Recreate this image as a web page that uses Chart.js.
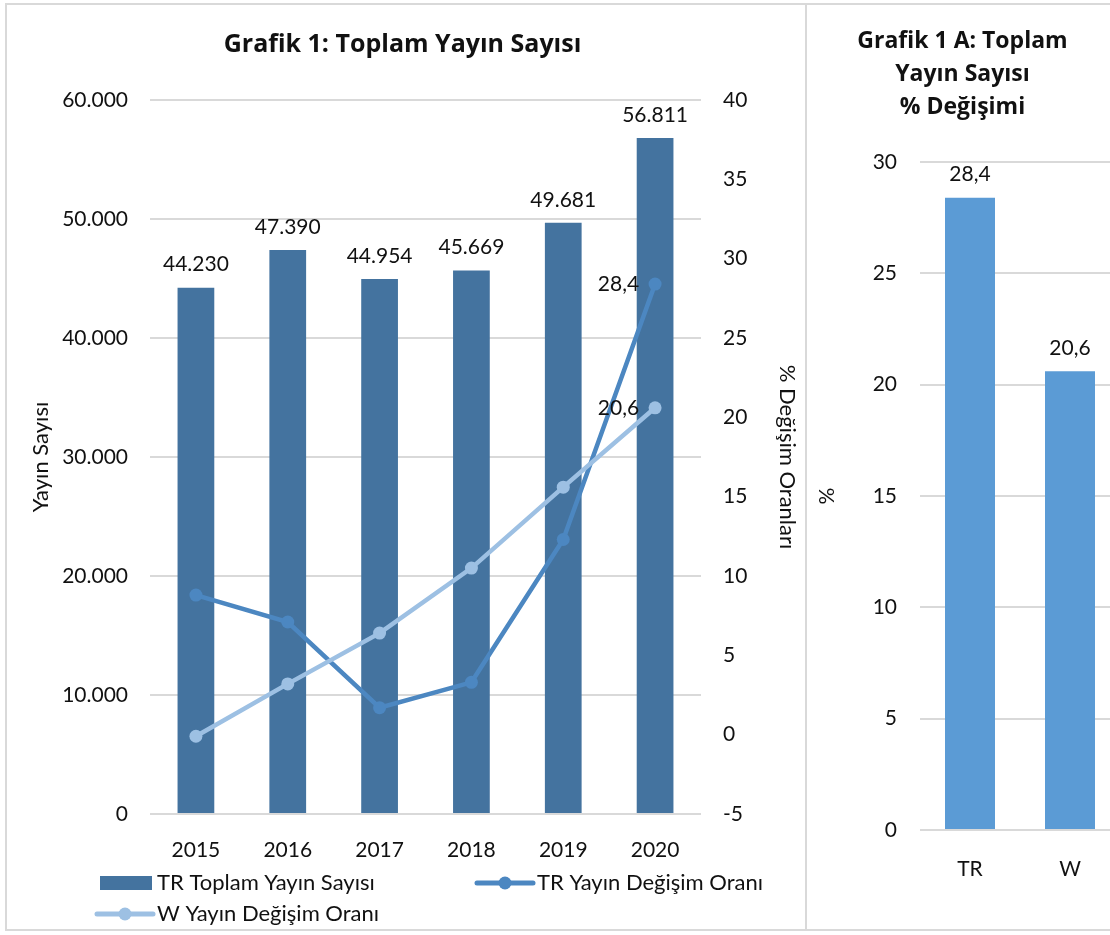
<!DOCTYPE html>
<html>
<head>
<meta charset="utf-8">
<title>Grafik 1: Toplam Yayın Sayısı</title>
<script src="https://cdn.jsdelivr.net/npm/chart.js@4.4.1/dist/chart.umd.min.js"></script>
<style>
  html, body { margin:0; padding:0; background:#fff; width:1110px; height:935px; overflow:hidden; }
  #sol { position:absolute; left:0; top:0; width:805px; height:930px; }
  #sag { position:absolute; left:805px; top:0; width:320px; height:930px; }
  .cerceve { position:absolute; box-sizing:border-box; border:2px solid #d9d9d9; pointer-events:none; }
</style>
</head>
<body>
<div id="sol"><canvas id="ch-toplam"></canvas></div>
<div id="sag"><canvas id="ch-yuzde"></canvas></div>
<div class="cerceve" style="left:5px;top:3px;width:802px;height:928px"></div>
<div class="cerceve" style="left:805px;top:3px;width:320px;height:928px"></div>

<script>
/* ---------- veriler ---------- */
const yillar      = ['2015', '2016', '2017', '2018', '2019', '2020'];
const trToplam    = [44230, 47390, 44954, 45669, 49681, 56811];
const trDegisim   = [8.8, 7.1, 1.7, 3.3, 12.3, 28.4];
const wDegisim    = [-0.1, 3.2, 6.4, 10.5, 15.6, 20.6];
const ulkeler     = ['TR', 'W'];
const degisim2020 = [28.4, 20.6];

/* ---------- stil ---------- */
const FONT = 'Lato, "Open Sans", sans-serif';
const BASLIK_FONT = '"Open Sans", Lato, sans-serif';
const YAZI = '#111';
const IZGARA = '#d9d9d9';
const RENK = { bar:'#44739f', tr:'#4c87c1', w:'#9dc0e3', yuzde:'#5b9bd5' };

// 44230 -> 44.230 , 28.4 -> 28,4
function fmtBin(v){ return String(v).replace(/\B(?=(\d{3})+(?!\d))/g, '.'); }
function fmtOran(v){ return String(v).replace('.', ','); }

// deger etiketleri (bar ustu, cizgide sadece son nokta)
const degerEtiketleri = {
  id: 'degerEtiketleri',
  afterDatasetsDraw(chart){
    const ctx = chart.ctx;
    ctx.save();
    ctx.font = '21px ' + FONT;
    ctx.fillStyle = YAZI;
    ctx.textBaseline = 'middle';
    chart.data.datasets.forEach((ds, i) => {
      const meta = chart.getDatasetMeta(i);
      meta.data.forEach((el, j) => {
        if (meta.type === 'line') {
          if (j !== ds.data.length - 1) return;
          ctx.textAlign = 'right';
          ctx.fillText(fmtOran(ds.data[j]), el.x - 16, el.y);
        } else {
          ctx.textAlign = 'center';
          ctx.fillText(ds.etiket(ds.data[j]), el.x, el.y - 23);
        }
      });
    });
    ctx.restore();
  }
};

// Excel tarzi lejant: iki sutun
const lejant = {
  id: 'lejant',
  afterDraw(chart){
    const ctx = chart.ctx;
    const yer = [ {x:100, y:883}, {x:477, y:883}, {x:97, y:914} ];
    ctx.save();
    ctx.font = '22px ' + FONT;
    ctx.textBaseline = 'middle';
    ctx.textAlign = 'left';
    chart.data.datasets.forEach((ds, i) => {
      const p = yer[i];
      if (ds.type === 'bar') {
        ctx.fillStyle = ds.backgroundColor;
        ctx.fillRect(p.x, p.y - 7, 52, 14);
        ctx.fillStyle = YAZI;
        ctx.fillText(ds.label, p.x + 57, p.y);
      } else {
        ctx.strokeStyle = ds.borderColor;
        ctx.lineWidth = 5;
        ctx.lineCap = 'round';
        ctx.beginPath(); ctx.moveTo(p.x, p.y); ctx.lineTo(p.x + 56, p.y); ctx.stroke();
        ctx.fillStyle = ds.borderColor;
        ctx.beginPath(); ctx.arc(p.x + 28, p.y, 6.5, 0, Math.PI * 2); ctx.fill();
        ctx.fillStyle = YAZI;
        ctx.fillText(ds.label, p.x + 60, p.y);
      }
    });
    ctx.restore();
  }
};

/* ---------- Grafik 1 ---------- */
new Chart(document.getElementById('ch-toplam'), {
  data: {
    labels: yillar,
    datasets: [
      { type:'bar', label:'TR Toplam Yayın Sayısı', data:trToplam, yAxisID:'y',
        backgroundColor:RENK.bar, borderWidth:0, order:3,
        categoryPercentage:0.4, barPercentage:1, etiket:fmtBin },
      { type:'line', label:'TR Yayın Değişim Oranı', data:trDegisim, yAxisID:'y1',
        borderColor:RENK.tr, backgroundColor:RENK.tr, borderWidth:4.5,
        pointRadius:6.5, pointBorderWidth:0, pointBackgroundColor:RENK.tr, tension:0, order:2 },
      { type:'line', label:'W Yayın Değişim Oranı', data:wDegisim, yAxisID:'y1',
        borderColor:RENK.w, backgroundColor:RENK.w, borderWidth:4.5,
        pointRadius:6.5, pointBorderWidth:0, pointBackgroundColor:RENK.w, tension:0, order:1 }
    ]
  },
  options: {
    responsive:true, maintainAspectRatio:false, animation:false,
    layout:{ padding:0 },
    plugins:{
      legend:{ display:false },
      tooltip:{ enabled:false },
      title:{ display:true, text:'Grafik 1: Toplam Yayın Sayısı', color:YAZI,
        font:{ family:BASLIK_FONT, size:25, weight:'bold' }, padding:{ top:30, bottom:40 } }
    },
    scales:{
      x:{
        grid:{ display:false }, border:{ display:false },
        ticks:{ color:YAZI, font:{ family:FONT, size:21 }, padding:16 },
        afterFit(s){ s.height = 116; }
      },
      y:{
        position:'left', min:0, max:60000,
        ticks:{ stepSize:10000, callback:fmtBin, color:YAZI, font:{ family:FONT, size:21 }, padding:22 },
        grid:{ color:IZGARA, lineWidth:2, drawTicks:false }, border:{ display:false },
        title:{ display:true, text:'Yayın Sayısı', color:YAZI, font:{ family:FONT, size:22 }, padding:{ top:28, bottom:0 } },
        afterFit(s){ s.width = 150; }
      },
      y1:{
        position:'right', min:-5, max:40,
        ticks:{ stepSize:5, color:YAZI, font:{ family:FONT, size:21 }, padding:22 },
        grid:{ display:false, drawTicks:false }, border:{ display:false },
        title:{ display:true, text:'% Değişim Oranları', color:YAZI, font:{ family:FONT, size:22 }, padding:{ top:5, bottom:0 } },
        afterFit(s){ s.width = 104; }
      }
    }
  },
  plugins:[degerEtiketleri, lejant]
});

/* ---------- Grafik 1 A ---------- */
new Chart(document.getElementById('ch-yuzde'), {
  type:'bar',
  data: {
    labels: ulkeler,
    datasets: [
      { label:'% Değişim', data:degisim2020, backgroundColor:RENK.yuzde, borderWidth:0,
        categoryPercentage:1, barPercentage:0.5, etiket:fmtOran }
    ]
  },
  options: {
    responsive:true, maintainAspectRatio:false, animation:false,
    layout:{ padding:{ left:0, right:5, top:0, bottom:0 } },
    plugins:{
      legend:{ display:false },
      tooltip:{ enabled:false },
      title:{ display:true, text:['Grafik 1 A: Toplam', 'Yayın Sayısı', '% Değişimi'], color:YAZI,
        font:{ family:BASLIK_FONT, size:23, weight:'bold', lineHeight:'33px' }, padding:{ top:25, bottom:38 } }
    },
    scales:{
      x:{
        grid:{ display:false }, border:{ display:false },
        ticks:{ color:YAZI, font:{ family:FONT, size:21 }, padding:19 },
        afterFit(s){ s.height = 100; }
      },
      y:{
        min:0, max:30,
        ticks:{ stepSize:5, color:YAZI, font:{ family:FONT, size:21 }, padding:23 },
        grid:{ color:IZGARA, lineWidth:2, drawTicks:false }, border:{ display:false },
        title:{ display:true, text:'%', color:YAZI, font:{ family:FONT, size:21 }, padding:{ top:10, bottom:0 } },
        afterFit(s){ s.width = 115; }
      }
    }
  },
  plugins:[degerEtiketleri]
});
</script>
</body>
</html>
